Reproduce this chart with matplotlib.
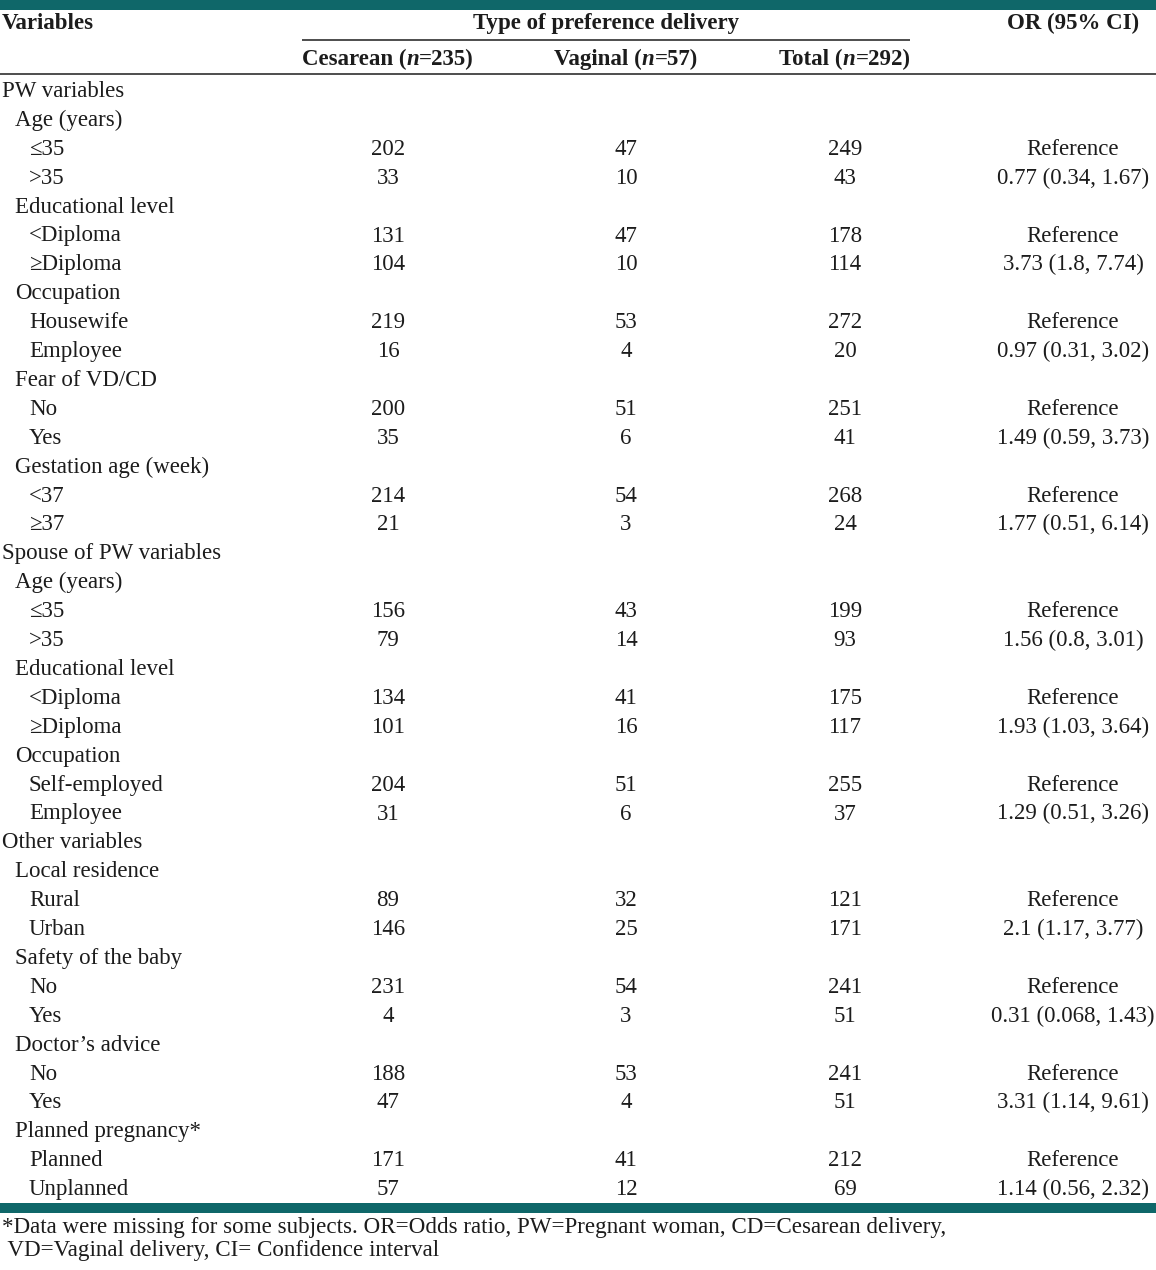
import matplotlib
matplotlib.use("Agg")
import matplotlib.pyplot as plt
from matplotlib.patches import Rectangle

# ---------------- data ----------------
row_labels = [
    "PW variables", "Age (years)", "\u226435", ">35",
    "Educational level", "<Diploma", "\u2265Diploma",
    "Occupation", "Housewife", "Employee",
    "Fear of VD/CD", "No", "Yes",
    "Gestation age (week)", "<37", "\u226537",
    "Spouse of PW variables", "Age (years)", "\u226435", ">35",
    "Educational level", "<Diploma", "\u2265Diploma",
    "Occupation", "Self-employed", "Employee",
    "Other variables", "Local residence", "Rural", "Urban",
    "Safety of the baby", "No", "Yes",
    "Doctor\u2019s advice", "No", "Yes",
    "Planned pregnancy*", "Planned", "Unplanned",
]
row_levels = [
    0, 1, 2, 2,
    1, 2, 2,
    1, 2, 2,
    1, 2, 2,
    1, 2, 2,
    0, 1, 2, 2,
    1, 2, 2,
    1, 2, 2,
    0, 1, 2, 2,
    1, 2, 2,
    1, 2, 2,
    1, 2, 2,
]
cesarean = [
    None, None, "202", "33",
    None, "131", "104",
    None, "219", "16",
    None, "200", "35",
    None, "214", "21",
    None, None, "156", "79",
    None, "134", "101",
    None, "204", "31",
    None, None, "89", "146",
    None, "231", "4",
    None, "188", "47",
    None, "171", "57",
]
vaginal = [
    None, None, "47", "10",
    None, "47", "10",
    None, "53", "4",
    None, "51", "6",
    None, "54", "3",
    None, None, "43", "14",
    None, "41", "16",
    None, "51", "6",
    None, None, "32", "25",
    None, "54", "3",
    None, "53", "4",
    None, "41", "12",
]
total = [
    None, None, "249", "43",
    None, "178", "114",
    None, "272", "20",
    None, "251", "41",
    None, "268", "24",
    None, None, "199", "93",
    None, "175", "117",
    None, "255", "37",
    None, None, "121", "171",
    None, "241", "51",
    None, "241", "51",
    None, "212", "69",
]
odds_ratio = [
    None, None, "Reference", "0.77 (0.34, 1.67)",
    None, "Reference", "3.73 (1.8, 7.74)",
    None, "Reference", "0.97 (0.31, 3.02)",
    None, "Reference", "1.49 (0.59, 3.73)",
    None, "Reference", "1.77 (0.51, 6.14)",
    None, None, "Reference", "1.56 (0.8, 3.01)",
    None, "Reference", "1.93 (1.03, 3.64)",
    None, "Reference", "1.29 (0.51, 3.26)",
    None, None, "Reference", "2.1 (1.17, 3.77)",
    None, "Reference", "0.31 (0.068, 1.43)",
    None, "Reference", "3.31 (1.14, 9.61)",
    None, "Reference", "1.14 (0.56, 2.32)",
]
group_header = "Type of preference delivery"
col_headers = [("Cesarean (", "n", "=235)"), ("Vaginal (", "n", "=57)"), ("Total (", "n", "=292)")]
first_header = "Variables"
last_header = "OR (95% CI)"
footnote = ["*Data were missing for some subjects. OR=Odds ratio, PW=Pregnant woman, CD=Cesarean delivery,",
            " VD=Vaginal delivery, CI= Confidence interval"]

# ---------------- layout ----------------
W, H = 1156, 1270
FAM = ["Liberation Serif", "DejaVu Serif"]
FS = 16.45
TXT = "#1c1c1c"
TEAL = "#0f6769"

fig = plt.figure(figsize=(W / 100, H / 100), dpi=100)
ax = fig.add_axes([0, 0, 1, 1])
ax.set_xlim(0, W)
ax.set_ylim(H, 0)
ax.axis("off")
renderer = fig.canvas.get_renderer()

# teal bars
ax.add_patch(Rectangle((0, 0), W, 10, color=TEAL, lw=0))
ax.add_patch(Rectangle((0, 1203), W, 10, color=TEAL, lw=0))
# rules
ax.plot([302, 910], [39.5, 39.5], color=TXT, lw=1.1, solid_capstyle="butt")
ax.plot([0, W], [73.5, 73.5], color=TXT, lw=1.1, solid_capstyle="butt")

def txt(x, y, s, ha="left", weight="normal", style="normal", fs=FS):
    return ax.text(x, y, s, ha=ha, va="baseline", fontsize=fs, family=FAM,
                   color=TXT, fontweight=weight, fontstyle=style)

def mixed(xc, y, parts):
    styles = ["normal", "italic", "normal"]
    widths = []
    for s, st in zip(parts, styles):
        t = txt(0, y, s, weight="bold", style=st)
        widths.append(t.get_window_extent(renderer).width)
        t.remove()
    x = xc - sum(widths) / 2
    for s, st, w in zip(parts, styles, widths):
        txt(x, y, s, weight="bold", style=st)
        x += w

# headers
txt(2, 29, first_header, weight="bold")
txt(606, 29, group_header, ha="center", weight="bold")
txt(1073, 29, last_header, ha="center", weight="bold")
col_x = [388, 626, 845]
for xc, parts in zip(col_x, col_headers):
    mixed(xc, 65, parts)

# body
indent = [2, 15, 29]
y0, dy = 97, 28.9
for i, lab in enumerate(row_labels):
    y = y0 + i * dy
    txt(indent[row_levels[i]], y, lab)
    for xc, col in zip(col_x, [cesarean, vaginal, total]):
        if col[i] is not None:
            txt(xc, y, col[i], ha="center")
    if odds_ratio[i] is not None:
        txt(1073, y, odds_ratio[i], ha="center")

# footnote
txt(2, 1233, footnote[0], fs=16.55)
txt(2, 1256, footnote[1], fs=16.55)

fig.savefig("out.png", dpi=100, facecolor="white")
